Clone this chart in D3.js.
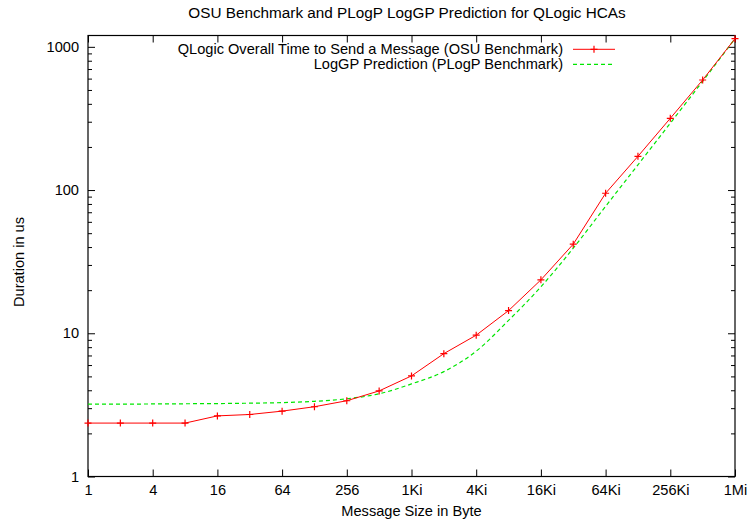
<!DOCTYPE html>
<html>
<head>
<meta charset="utf-8">
<script src="https://cdn.jsdelivr.net/npm/d3@7"></script>
<style>
  body { margin: 0; background: #fff; }
  svg text { font-family: "Liberation Sans", Arial, Helvetica, sans-serif; fill: #000; }
</style>
</head>
<body>
<svg id="chart" width="749" height="526"></svg>
<script>
// message sizes in byte (powers of two, 1 .. 1Mi)
var sizes = [1, 2, 4, 8, 16, 32, 64, 128, 256, 512, 1024, 2048, 4096, 8192,
    16384, 32768, 65536, 131072, 262144, 524288, 1048576];
// measured OSU latency, us
var osuTime = [2.36, 2.36, 2.36, 2.36, 2.65, 2.71, 2.86, 3.07, 3.38, 3.96, 5.04,
    7.21, 9.7, 14.4, 23.6, 41.9, 95, 172, 317, 587, 1140];
// LogGP prediction, us
var loggpTime = [3.2, 3.2, 3.21, 3.22, 3.23, 3.25, 3.28, 3.35, 3.49, 3.78, 4.43,
    5.4, 7.5, 12.3, 21.1, 39.3, 77, 150, 293, 575, 1140];

var xTickValues = [1, 4, 16, 64, 256, 1024, 4096, 16384, 65536, 262144, 1048576];
var xTickLabels = ["1", "4", "16", "64", "256", "1Ki", "4Ki", "16Ki", "64Ki", "256Ki", "1Mi"];
var yTickValues = [1, 10, 100, 1000];
var yTickLabels = ["1", "10", "100", "1000"];

var seriesNames = ["QLogic Overall Time to Send a Message (OSU Benchmark)",
    "LogGP Prediction (PLogP Benchmark)"];

var svg = d3.select('#chart');
var fs = '14.6px';
var mLeft = 88, mRight = 735, mTop = 35.5, mBottom = 476.5;

var x = d3.scaleLog().base(2).domain([1, 1048576]).range([mLeft, mRight]);
var y = d3.scaleLog().domain([1, 1200]).range([mBottom, mTop]);

// minor y ticks 2..9 per decade
var yMinor = [];
[1, 10, 100, 1000].forEach(function(d) {
    for (var k = 2; k <= 9; k++) {
        if (d * k <= 1200) yMinor.push(d * k);
    }
});

function styleAxis(g) {
    g.select('.domain').remove();
    g.selectAll('line').attr('stroke', '#000');
    g.selectAll('text').style('font-size', fs);
}

// bottom
svg.append('g')
    .attr('transform', 'translate(0,' + mBottom + ')')
    .call(d3.axisBottom(x).tickValues(xTickValues)
        .tickFormat(function(d, i) { return xTickLabels[i]; })
        .tickSize(-7).tickPadding(8))
    .call(styleAxis);
// top
svg.append('g')
    .attr('transform', 'translate(0,' + mTop + ')')
    .call(d3.axisTop(x).tickValues(xTickValues).tickFormat('').tickSize(-7))
    .call(styleAxis);
// left
svg.append('g')
    .attr('transform', 'translate(' + mLeft + ',0)')
    .call(d3.axisLeft(y).tickValues(yTickValues)
        .tickFormat(function(d, i) { return yTickLabels[i]; })
        .tickSize(-7).tickPadding(9))
    .call(styleAxis);
svg.append('g')
    .attr('transform', 'translate(' + mLeft + ',0)')
    .call(d3.axisLeft(y).tickValues(yMinor).tickFormat('').tickSize(-4))
    .call(styleAxis);
// right
svg.append('g')
    .attr('transform', 'translate(' + mRight + ',0)')
    .call(d3.axisRight(y).tickValues(yTickValues).tickFormat('').tickSize(-7))
    .call(styleAxis);
svg.append('g')
    .attr('transform', 'translate(' + mRight + ',0)')
    .call(d3.axisRight(y).tickValues(yMinor).tickFormat('').tickSize(-4))
    .call(styleAxis);

// frame
svg.append('rect')
    .attr('x', mLeft).attr('y', mTop)
    .attr('width', mRight - mLeft).attr('height', mBottom - mTop)
    .attr('fill', 'none').attr('stroke', '#000').attr('stroke-width', 1.2);

// series
var osuLine = d3.line()
    .x(function(d, i) { return x(sizes[i]); })
    .y(function(d) { return y(d); });
var loggpLine = d3.line()
    .x(function(d, i) { return x(sizes[i]); })
    .y(function(d) { return y(d); })
    .curve(d3.curveMonotoneX);

svg.append('path')
    .datum(loggpTime)
    .attr('d', loggpLine)
    .attr('fill', 'none')
    .attr('stroke', '#00e600')
    .attr('stroke-width', 1.2)
    .attr('stroke-dasharray', '4,3');

svg.append('path')
    .datum(osuTime)
    .attr('d', osuLine)
    .attr('fill', 'none')
    .attr('stroke', '#ff0000')
    .attr('stroke-width', 1);

var plus = 'M-3.5,0H3.5M0,-3.5V3.5';
svg.selectAll('.pt')
    .data(osuTime)
    .enter().append('path')
    .attr('class', 'pt')
    .attr('transform', function(d, i) { return 'translate(' + x(sizes[i]) + ',' + y(d) + ')'; })
    .attr('d', plus)
    .attr('stroke', '#ff0000')
    .attr('stroke-width', 1.2);

// legend
var lg = svg.append('g');
lg.append('text').attr('x', 563).attr('y', 54)
    .attr('text-anchor', 'end').style('font-size', fs).text(seriesNames[0]);
lg.append('line').attr('x1', 573).attr('x2', 615).attr('y1', 49.3).attr('y2', 49.3)
    .attr('stroke', '#ff0000');
lg.append('path').attr('transform', 'translate(594,49.3)').attr('d', plus)
    .attr('stroke', '#ff0000').attr('stroke-width', 1.2);
lg.append('text').attr('x', 563).attr('y', 68.5)
    .attr('text-anchor', 'end').style('font-size', fs).text(seriesNames[1]);
lg.append('line').attr('x1', 573).attr('x2', 615).attr('y1', 64.3).attr('y2', 64.3)
    .attr('stroke', '#00e600').attr('stroke-width', 1.2).attr('stroke-dasharray', '4,3');

// titles
svg.append('text')
    .attr('x', 407).attr('y', 18)
    .attr('text-anchor', 'middle').style('font-size', '15.3px')
    .text('OSU Benchmark and PLogP LogGP Prediction for QLogic HCAs');
svg.append('text')
    .attr('x', (mLeft + mRight) / 2).attr('y', 516)
    .attr('text-anchor', 'middle').style('font-size', fs)
    .text('Message Size in Byte');
svg.append('text')
    .attr('transform', 'translate(24,262) rotate(-90)')
    .attr('text-anchor', 'middle').style('font-size', fs)
    .text('Duration in us');
</script>
</body>
</html>
